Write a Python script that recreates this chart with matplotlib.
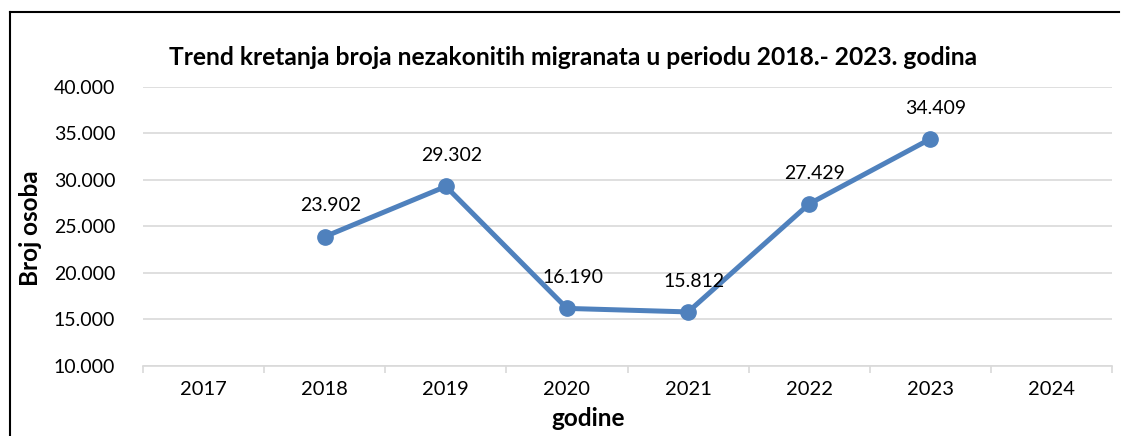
import matplotlib.pyplot as plt
from matplotlib.lines import Line2D
from matplotlib.ticker import FuncFormatter, MultipleLocator

plt.rcParams['font.family'] = ['Lato', 'DejaVu Sans']

years = ['2017', '2018', '2019', '2020', '2021', '2022', '2023', '2024']
data_years = ['2018', '2019', '2020', '2021', '2022', '2023']
migrants = [23902, 29302, 16190, 15812, 27429, 34409]

line_color = '#4F81BD'
grid_color = '#D9D9D9'


def thousands(v, pos=None):
    return f'{int(v):,}'.replace(',', '.')


fig = plt.figure(figsize=(11.21, 4.36), dpi=100)
ax = fig.add_axes([0.1276, 0.1606, 0.8644, 0.64])

xs = [years.index(y) for y in data_years]
ax.plot(xs, migrants, color=line_color, lw=3.6, marker='o', ms=11,
        solid_capstyle='round', zorder=3)
for x, v in zip(xs, migrants):
    ax.annotate(thousands(v), (x, v), xytext=(4, 16), textcoords='offset points',
                ha='center', va='bottom', fontsize=14)

ax.set_xlim(-0.5, len(years) - 0.5)
ax.set_ylim(10000, 40000)
ax.yaxis.set_major_locator(MultipleLocator(5000))
ax.yaxis.set_major_formatter(FuncFormatter(thousands))
ax.set_xticks(range(len(years)))
ax.set_xticklabels(years)
ax.set_xticks([i - 0.5 for i in range(len(years) + 1)], minor=True)

ax.grid(axis='y', color=grid_color, lw=1.2)
ax.set_axisbelow(True)
for side in ['top', 'right', 'left']:
    ax.spines[side].set_visible(False)
ax.spines['bottom'].set_color(grid_color)
ax.spines['bottom'].set_linewidth(1.2)
ax.tick_params(axis='y', length=0, pad=20, labelsize=14)
ax.tick_params(axis='x', which='major', length=0, pad=11, labelsize=14.5)
ax.tick_params(axis='x', which='minor', length=5, width=1.2, color=grid_color)

fig.text(0.5245, 0.041, 'godine', ha='center', va='center',
         fontsize=17.5, fontweight='bold')
fig.text(0.0268, 0.477, 'Broj osoba', ha='center', va='center', rotation=90,
         fontsize=17.5, fontweight='bold')
fig.text(0.5116, 0.869, 'Trend kretanja broja nezakonitih migranata u periodu 2018.- 2023. godina',
         ha='center', va='center', fontsize=17.7, fontweight='bold')

# outer frame, left and top edges
fig.add_artist(Line2D([0.009, 0.009], [0, 0.972], color='black', lw=1.5))
fig.add_artist(Line2D([0.009, 0.998], [0.972, 0.972], color='black', lw=1.5))

fig.savefig('out.png', dpi=100)
